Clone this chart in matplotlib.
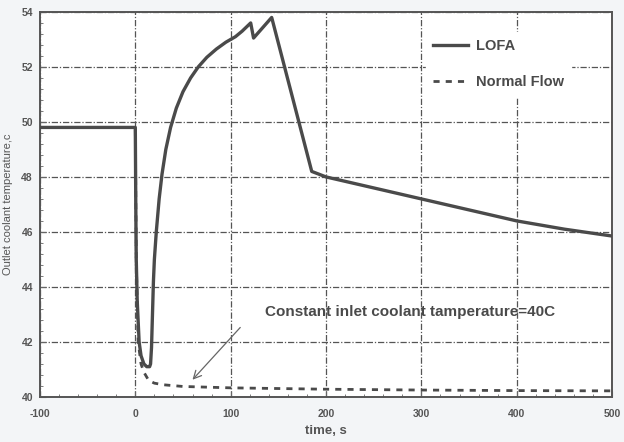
import matplotlib
matplotlib.use("Agg")
import matplotlib.pyplot as plt
from matplotlib.ticker import MultipleLocator

plt.rcParams['font.family'] = ['Liberation Sans', 'DejaVu Sans']
plt.rcParams['axes.unicode_minus'] = False

lofa_t = [-100, 0, 0.5, 1, 2, 4, 6, 9, 12, 15, 16, 17, 18, 19, 20, 22, 25, 28, 32, 37,
          43, 50, 58, 66, 75, 85, 95, 105, 112, 121, 124, 143, 185, 200, 250, 300, 350,
          400, 450, 500]
lofa_T = [49.8, 49.8, 47.0, 45.0, 43.5, 42.0, 41.5, 41.2, 41.1, 41.1, 41.2, 41.8, 43.0,
          44.2, 45.0, 46.0, 47.2, 48.1, 49.0, 49.8, 50.5, 51.1, 51.6, 52.0, 52.35, 52.65,
          52.9, 53.1, 53.3, 53.6, 53.05, 53.8, 48.2, 48.0, 47.6, 47.2, 46.8, 46.4, 46.1,
          45.85]

normal_t = [-100, 0, 1, 3, 6, 9, 14, 20, 30, 50, 100, 200, 300, 400, 500]
normal_T = [49.8, 49.8, 45.0, 42.0, 41.2, 40.9, 40.6, 40.5, 40.44, 40.38, 40.33, 40.28,
            40.25, 40.23, 40.22]

x_ticks = [-100, 0, 100, 200, 300, 400, 500]
y_ticks = [40, 42, 44, 46, 48, 50, 52, 54]

annotation = "Constant inlet coolant tamperature=40C"

fig = plt.figure(figsize=(6.24, 4.42), dpi=100, facecolor='#f3f5f7')
ax = fig.add_axes([0.064, 0.102, 0.917, 0.871])
ax.set_facecolor('white')

ink = '#4a4a4a'
ax.plot(lofa_t, lofa_T, color=ink, lw=2.4, label='LOFA', zorder=3)
ax.plot(normal_t, normal_T, color=ink, lw=2.0, ls=(0, (2.2, 2.2)), label='Normal Flow', zorder=2)

ax.set_xlim(-100, 500)
ax.set_ylim(40, 54)
ax.set_xticks(x_ticks)
ax.set_yticks(y_ticks)
ax.xaxis.set_minor_locator(MultipleLocator(20))
ax.yaxis.set_minor_locator(MultipleLocator(0.4))
ax.tick_params(which='both', direction='in', colors='#666666', labelcolor='#555555',
               labelsize=7.5)
ax.tick_params(which='major', length=4)
ax.tick_params(which='minor', length=2)
ax.tick_params(axis='x', pad=9)
ax.tick_params(axis='y', pad=5)
for lab in ax.get_xticklabels() + ax.get_yticklabels():
    lab.set_fontweight('bold')

ax.grid(True, which='major', color='#555555', ls=(0, (5, 1.5, 1, 1.5)), lw=0.9)
for s in ax.spines.values():
    s.set_color('#555555')
    s.set_linewidth(1.4)

ax.set_xlabel('time, s', fontsize=9.5, fontweight='bold', color='#555555', labelpad=4)
ax.set_ylabel('Outlet coolant temperature,c', fontsize=8, color='#555555', labelpad=6)

ax.text(288, 43.1, annotation, fontsize=11, fontweight='bold', color='#4a4a4a',
        ha='center', va='center')
ax.annotate('', xy=(58, 40.55), xytext=(112, 42.6),
            arrowprops=dict(arrowstyle='->', color='#666666', lw=0.9,
                            mutation_scale=14))

leg = ax.legend(loc='upper left', bbox_to_anchor=(0.662, 0.968), frameon=True,
                fontsize=10.5, handlelength=2.4, labelspacing=1.5, borderpad=0.5,
                handletextpad=0.5)
leg.get_frame().set_edgecolor('white')
leg.get_frame().set_facecolor('white')
leg.get_frame().set_alpha(1)
for t in leg.get_texts():
    t.set_fontweight('bold')
    t.set_color('#4a4a4a')

fig.savefig('out.png', dpi=100, facecolor=fig.get_facecolor())
